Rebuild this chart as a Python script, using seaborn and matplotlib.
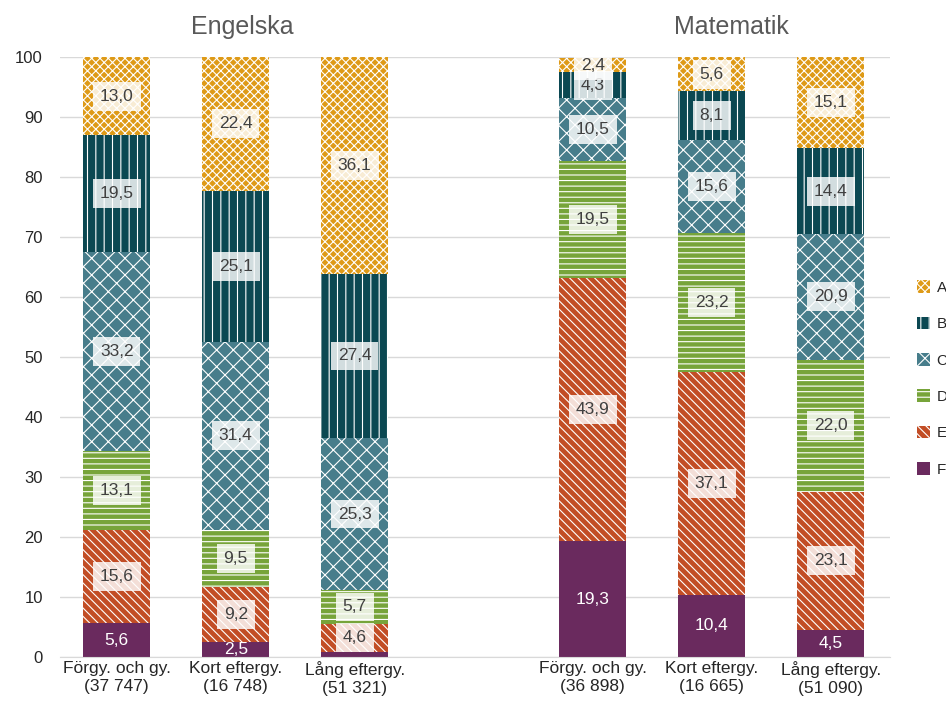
import numpy as np
import pandas as pd
import matplotlib
matplotlib.use('Agg')
import matplotlib.pyplot as plt
import seaborn as sns
from matplotlib.patches import Patch

# ----
# Data
# ----
categories = ['Förgy. och gy.\n(37 747)', 'Kort eftergy.\n(16 748)', 'Lång eftergy.\n(51 321)',
              ' ',
              'Förgy. och gy.\n(36 898)', 'Kort eftergy.\n(16 665)', 'Lång eftergy.\n(51 090)']
bar_cats = [c for c in categories if c.strip()]
grades = ['F', 'E', 'D', 'C', 'B', 'A']
grade_F = [5.6, 2.5, 0.9, 19.3, 10.4, 4.5]
grade_E = [15.6, 9.2, 4.6, 43.9, 37.1, 23.1]
grade_D = [13.1, 9.5, 5.7, 19.5, 23.2, 22.0]
grade_C = [33.2, 31.4, 25.3, 10.5, 15.6, 20.9]
grade_B = [19.5, 25.1, 27.4, 4.3, 8.1, 14.4]
grade_A = [13.0, 22.4, 36.1, 2.4, 5.6, 15.1]
group_titles = ['Engelska', 'Matematik']

# -----
# Style
# -----
colors = {'A': '#DE9A17', 'B': '#0B4852', 'C': '#477D8B', 'D': '#77A43A', 'E': '#C24D25', 'F': '#6A2A5E'}
hatches = {'A': 'xxxx', 'B': '||', 'C': 'xx', 'D': '---', 'E': '\\\\\\\\', 'F': ''}

sns.set_style('white')
plt.rcParams['font.family'] = ['Liberation Sans', 'DejaVu Sans']
plt.rcParams['hatch.color'] = (1, 1, 1, 0.7)
plt.rcParams['hatch.linewidth'] = 0.8

df = pd.DataFrame({'cat': bar_cats, 'F': grade_F, 'E': grade_E, 'D': grade_D,
                   'C': grade_C, 'B': grade_B, 'A': grade_A})
cum = df[grades].cumsum(axis=1)

fig, ax = plt.subplots(figsize=(9.46, 7.08), dpi=100)
ax.yaxis.grid(True, color='#d9d9d9', linewidth=1)
ax.set_axisbelow(True)

# draw cumulative tops back to front so each layer covers the one below
for g in grades[::-1]:
    sns.barplot(x=df['cat'], y=cum[g], order=categories, color=colors[g], hatch=hatches[g],
                width=0.56, saturation=1, linewidth=0, ax=ax)

# value labels
pos = {c: i for i, c in enumerate(categories)}
for _, row in df.iterrows():
    bottom = 0
    for g in grades:
        v = row[g]
        mid = bottom + v / 2
        bottom += v
        if v < 1:
            continue
        txt = f'{v:.1f}'.replace('.', ',')
        if g == 'F':
            ax.text(pos[row['cat']], mid, txt, ha='center', va='center', fontsize=12.5, color='white')
        else:
            ax.text(pos[row['cat']], mid, txt, ha='center', va='center', fontsize=12.5, color='#404040',
                    bbox=dict(boxstyle='square,pad=0.4', fc='white', ec='none', alpha=0.82))

ax.set_ylim(0, 100)
ax.set_yticks(range(0, 101, 10))
ax.set_xlim(-0.48, 6.5)
ax.set_xlabel('')
ax.set_ylabel('')
ax.tick_params(axis='both', labelsize=12.5, colors='#262626', length=0)
ax.tick_params(axis='y', labelsize=12, pad=12)
ax.tick_params(axis='x', pad=3)
for s in ['top', 'right', 'left']:
    ax.spines[s].set_visible(False)
ax.spines['bottom'].set_color('#d9d9d9')

fig.text(0.256, 0.962, group_titles[0], ha='center', va='center', fontsize=18, color='#595959')
fig.text(0.773, 0.962, group_titles[1], ha='center', va='center', fontsize=18, color='#595959')

handles = [Patch(facecolor=colors[g], hatch=hatches[g], linewidth=0, label=g) for g in grades[::-1]]
fig.legend(handles=handles, loc='upper left', bbox_to_anchor=(0.969, 0.604), frameon=False,
           fontsize=11, handlelength=0.9, handleheight=0.9, handletextpad=0.4, labelspacing=1.42,
           borderaxespad=0, borderpad=0)

fig.subplots_adjust(left=0.063, right=0.941, top=0.919, bottom=0.072)
fig.savefig('out.png', dpi=100)
